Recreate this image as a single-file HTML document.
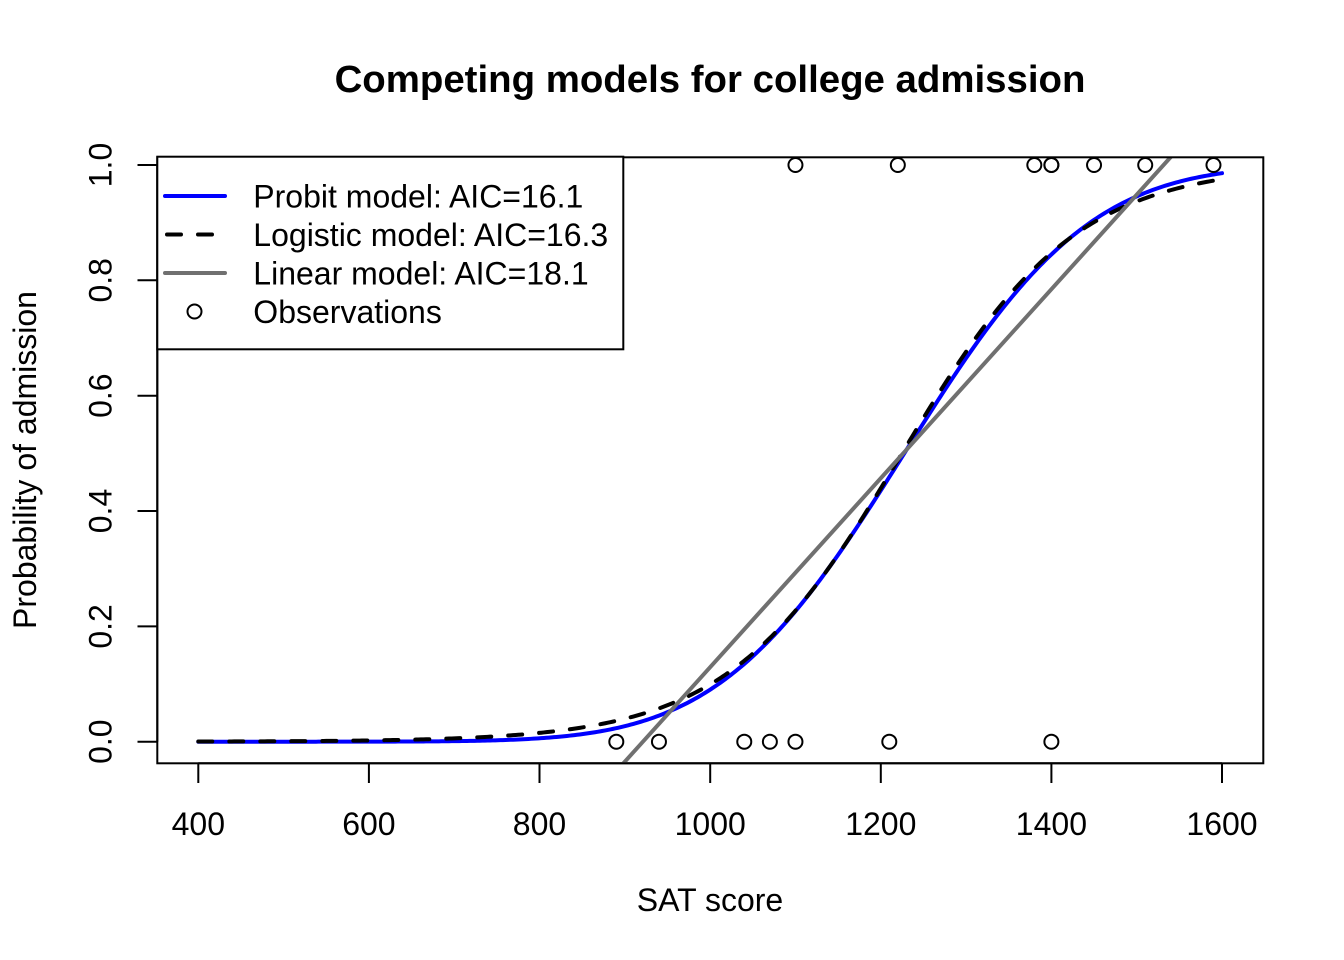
<!DOCTYPE html>
<html>
<head>
<meta charset="utf-8">
<style>
html,body{margin:0;padding:0;background:#fff;}
svg{display:block;}
text{font-family:"Liberation Sans",Arial,Helvetica,sans-serif;fill:#000;}
</style>
</head>
<body>
<svg id="chart" width="1344" height="960" viewBox="0 0 1344 960" xmlns="http://www.w3.org/2000/svg">
<rect x="0" y="0" width="1344" height="960" fill="#fff"/>
<defs>
<clipPath id="plotclip"><rect x="157.3" y="157.3" width="1106" height="606"/></clipPath>
</defs>

<!-- Title -->
<text x="710" y="92" font-size="38.4" font-weight="bold" text-anchor="middle">Competing models for college admission</text>

<!-- Axis labels -->
<text x="710" y="911" font-size="32" text-anchor="middle">SAT score</text>
<text transform="translate(36,460) rotate(-90)" font-size="32" text-anchor="middle">Probability of admission</text>

<!-- X axis -->
<g stroke="#000" stroke-width="2" fill="none">
<line x1="198.3" y1="763.3" x2="1222" y2="763.3"/>
<line x1="198.3" y1="763.3" x2="198.3" y2="783"/>
<line x1="368.9" y1="763.3" x2="368.9" y2="783"/>
<line x1="539.5" y1="763.3" x2="539.5" y2="783"/>
<line x1="710.2" y1="763.3" x2="710.2" y2="783"/>
<line x1="880.8" y1="763.3" x2="880.8" y2="783"/>
<line x1="1051.4" y1="763.3" x2="1051.4" y2="783"/>
<line x1="1222" y1="763.3" x2="1222" y2="783"/>
</g>
<g font-size="32" text-anchor="middle">
<text x="198.3" y="835">400</text>
<text x="368.9" y="835">600</text>
<text x="539.5" y="835">800</text>
<text x="710.2" y="835">1000</text>
<text x="880.8" y="835">1200</text>
<text x="1051.4" y="835">1400</text>
<text x="1222" y="835">1600</text>
</g>

<!-- Y axis -->
<g stroke="#000" stroke-width="2" fill="none">
<line x1="157.3" y1="741.7" x2="157.3" y2="165"/>
<line x1="137.5" y1="741.7" x2="157.3" y2="741.7"/>
<line x1="137.5" y1="626.4" x2="157.3" y2="626.4"/>
<line x1="137.5" y1="511.0" x2="157.3" y2="511.0"/>
<line x1="137.5" y1="395.7" x2="157.3" y2="395.7"/>
<line x1="137.5" y1="280.3" x2="157.3" y2="280.3"/>
<line x1="137.5" y1="165.0" x2="157.3" y2="165.0"/>
</g>
<g font-size="32" text-anchor="middle">
<text transform="translate(111.5,741.7) rotate(-90)">0.0</text>
<text transform="translate(111.5,626.4) rotate(-90)">0.2</text>
<text transform="translate(111.5,511.0) rotate(-90)">0.4</text>
<text transform="translate(111.5,395.7) rotate(-90)">0.6</text>
<text transform="translate(111.5,280.3) rotate(-90)">0.8</text>
<text transform="translate(111.5,165.0) rotate(-90)">1.0</text>
</g>

<!-- Curves -->
<g clip-path="url(#plotclip)" fill="none">
<path id="probit" d="" stroke="#0000ff" stroke-width="4" stroke-linejoin="round" stroke-linecap="round"/>
<path id="logit" d="" stroke="#000" stroke-width="4" stroke-dasharray="14,17" stroke-linejoin="round" stroke-linecap="round"/>
<line id="linear" x1="581" y1="838" x2="1222" y2="100" stroke="#707070" stroke-width="4" stroke-linecap="round"/>
</g>

<!-- Points -->
<g id="pts" fill="none" stroke="#000" stroke-width="2"></g>

<!-- Plot box -->
<rect x="157.3" y="157.3" width="1106" height="606" fill="none" stroke="#000" stroke-width="2"/>

<!-- Legend -->
<rect x="157.3" y="156.7" width="466" height="192.6" fill="#fff" stroke="#000" stroke-width="2"/>
<line x1="165" y1="196" x2="225" y2="196" stroke="#0000ff" stroke-width="4" stroke-linecap="round"/>
<line x1="167" y1="234.5" x2="225" y2="234.5" stroke="#000" stroke-width="4" stroke-dasharray="14,17" stroke-linecap="round"/>
<line x1="165" y1="273" x2="225" y2="273" stroke="#707070" stroke-width="4" stroke-linecap="round"/>
<circle cx="194.5" cy="311.5" r="7" fill="none" stroke="#000" stroke-width="2"/>
<g font-size="32">
<text x="253.3" y="207.5">Probit model: AIC=16.1</text>
<text x="253.3" y="246">Logistic model: AIC=16.3</text>
<text x="253.3" y="284.5">Linear model: AIC=18.1</text>
<text x="253.3" y="323">Observations</text>
</g>
</svg>

<script>
(function(){
  var xs=[890,940,1040,1070,1100,1210,1400,1100,1220,1380,1400,1400,1450,1510,1590];
  var ys=[0,0,0,0,0,0,0,1,1,1,1,1,1,1,1];
  function px(x){return 198.3+(x-400)*0.853083;}
  function py(p){return 741.7-p*576.7;}
  function erf(x){
    var s=x<0?-1:1; x=Math.abs(x);
    var t=1/(1+0.3275911*x);
    var y=1-(((((1.061405429*t-1.453152027)*t)+1.421413741)*t-0.284496736)*t+0.254829592)*t*Math.exp(-x*x);
    return s*y;
  }
  function Phi(z){return 0.5*(1+erf(z/Math.SQRT2));}
  function phi(z){return Math.exp(-0.5*z*z)/Math.sqrt(2*Math.PI);}
  function lgF(z){return 1/(1+Math.exp(-z));}
  function lgf(z){var p=lgF(z);return p*(1-p);}
  function fit(F,f,a,b){
    for(var it=0;it<200;it++){
      var Sw=0,Swu=0,Swuu=0,Swz=0,Swuz=0;
      for(var i=0;i<xs.length;i++){
        var u=(xs[i]-1200)/100;
        var eta=a+b*u;
        var mu=F(eta); mu=Math.min(Math.max(mu,1e-10),1-1e-10);
        var d=f(eta); if(d<1e-12)d=1e-12;
        var w=d*d/(mu*(1-mu));
        var z=eta+(ys[i]-mu)/d;
        Sw+=w;Swu+=w*u;Swuu+=w*u*u;Swz+=w*z;Swuz+=w*u*z;
      }
      var nb=(Sw*Swuz-Swu*Swz)/(Sw*Swuu-Swu*Swu);
      var na=(Swz-nb*Swu)/Sw;
      if(!isFinite(na)||!isFinite(nb))break;
      a=na;b=nb;
    }
    return [a,b];
  }
  var pr=fit(Phi,phi,0.15,0.6);
  var lg=fit(lgF,lgf,0.3,1.0);
  function path(F,ab){
    var d="";
    for(var k=0;k<=400;k++){
      var x=400+1200*k/400;
      var u=(x-1200)/100;
      var p=F(ab[0]+ab[1]*u);
      d+=(k?"L":"M")+px(x).toFixed(2)+","+py(p).toFixed(2);
    }
    return d;
  }
  document.getElementById("probit").setAttribute("d",path(Phi,pr));
  document.getElementById("logit").setAttribute("d",path(lgF,lg));
  var n=xs.length,sx=0,sy=0;
  for(var i=0;i<n;i++){sx+=xs[i];sy+=ys[i];}
  var mx=sx/n,my=sy/n,sxx=0,sxy=0;
  for(var i=0;i<n;i++){sxx+=(xs[i]-mx)*(xs[i]-mx);sxy+=(xs[i]-mx)*(ys[i]-my);}
  var bb=sxy/sxx,aa=my-bb*mx;
  var l=document.getElementById("linear");
  l.setAttribute("x1",px(850));l.setAttribute("y1",py(aa+bb*850));
  l.setAttribute("x2",px(1600));l.setAttribute("y2",py(aa+bb*1600));
  var g=document.getElementById("pts");
  for(var i=0;i<n;i++){
    var c=document.createElementNS("http://www.w3.org/2000/svg","circle");
    c.setAttribute("cx",px(xs[i]).toFixed(2));
    c.setAttribute("cy",py(ys[i]).toFixed(2));
    c.setAttribute("r","7");
    g.appendChild(c);
  }
})();
</script>
</body>
</html>
